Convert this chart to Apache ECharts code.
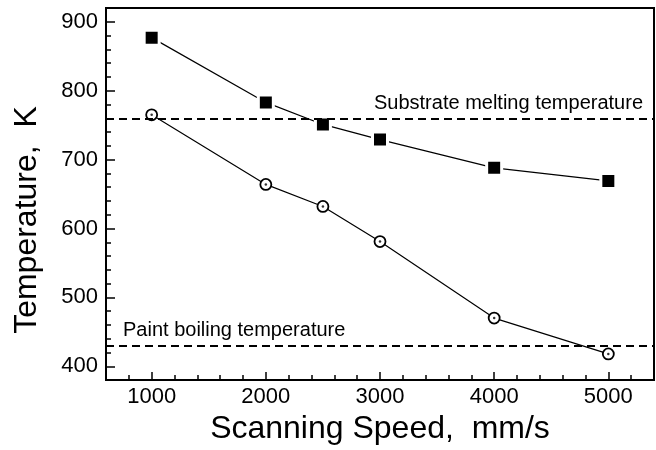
<!DOCTYPE html>
<html>
<head>
<meta charset="utf-8">
<script src="https://cdn.jsdelivr.net/npm/echarts@6/dist/echarts.min.js"></script>
<style>
  html, body { margin: 0; padding: 0; background: #fff; }
  #chart { width: 656px; height: 450px; }
</style>
</head>
<body>
<div id="chart"></div>
<script>
const speeds = [1000, 2000, 2500, 3000, 4000, 5000];
const squareTemps = [877, 783, 751, 729, 688, 669];
const circleTemps = [765, 664, 632, 581, 470, 418];

const meltingTemp = 760;
const boilingTemp = 430;

const xMajor = [1000, 2000, 3000, 4000, 5000];
const xMinor = [800, 1200, 1400, 1600, 1800, 2200, 2400, 2600, 2800, 3200, 3400, 3600, 3800, 4200, 4400, 4600, 4800, 5200];
const yMajor = [400, 500, 600, 700, 800, 900];
const yMinor = [420, 440, 460, 480, 520, 540, 560, 580, 620, 640, 660, 680, 720, 740, 760, 780, 820, 840, 860, 880];

const font = "'Liberation Sans', Arial, sans-serif";

const pairs = (ys) => speeds.map((s, i) => [s, ys[i]]);

const chart = echarts.init(document.getElementById("chart"));

const xBase = {
  type: "value",
  min: 600,
  max: 5400,
  position: "bottom",
  splitLine: { show: false },
};
const yBase = {
  type: "value",
  min: 380,
  max: 920,
  position: "left",
  splitLine: { show: false },
};

const option = {
  animation: false,
  backgroundColor: "#fff",
  grid: {
    left: 106,
    right: 2,
    top: 8,
    bottom: 63,
    show: true,
    borderColor: "#000",
    borderWidth: 2,
  },
  xAxis: [
    {
      ...xBase,
      name: "Scanning Speed,  mm/s",
      nameLocation: "middle",
      nameGap: 31,
      nameTextStyle: { fontSize: 32, fontFamily: font, color: "#000" },
      axisLine: { lineStyle: { color: "#000", width: 2 } },
      axisTick: {
        inside: true,
        length: 8,
        customValues: xMajor,
        lineStyle: { color: "#000", width: 1.5 },
      },
      axisLabel: {
        customValues: xMajor,
        formatter: (v) => String(v),
        fontSize: 22,
        fontFamily: font,
        color: "#000",
        margin: 6,
      },
    },
    {
      ...xBase,
      axisLine: { show: false },
      axisTick: {
        inside: true,
        length: 5,
        customValues: xMinor,
        lineStyle: { color: "#000", width: 1.5 },
      },
      axisLabel: { show: false },
    },
  ],
  yAxis: [
    {
      ...yBase,
      axisLine: { lineStyle: { color: "#000", width: 2 } },
      axisTick: {
        inside: true,
        length: 9,
        customValues: yMajor,
        lineStyle: { color: "#000", width: 1.5 },
      },
      axisLabel: {
        customValues: yMajor,
        formatter: (v) => String(v),
        fontSize: 22,
        fontFamily: font,
        color: "#000",
        margin: 8,
      },
    },
    {
      ...yBase,
      axisLine: { show: false },
      axisTick: {
        inside: true,
        length: 5,
        customValues: yMinor,
        lineStyle: { color: "#000", width: 1.5 },
      },
      axisLabel: { show: false },
    },
  ],
  graphic: [
    {
      type: "text",
      x: 27,
      y: 220,
      rotation: Math.PI / 2,
      style: {
        text: "Temperature,  K",
        font: "32px " + font,
        fill: "#000",
        align: "center",
        verticalAlign: "middle",
      },
    },
  ],
  series: [
    {
      type: "line",
      data: pairs(squareTemps),
      symbol: "rect",
      symbolSize: 15,
      lineStyle: { color: "#000", width: 1.2 },
      itemStyle: { color: "#000", borderColor: "#fff", borderWidth: 3 },
      z: 3,
      markLine: {
        silent: true,
        symbol: "none",
        lineStyle: { color: "#000", type: [8, 5], width: 1.8 },
        data: [
          {
            yAxis: meltingTemp,
            label: {
              formatter: "Substrate melting temperature",
              position: "insideEndTop",
              padding: [0, 6, 0, 0],
              fontSize: 20,
              fontFamily: font,
              color: "#000",
            },
          },
          {
            yAxis: boilingTemp,
            label: {
              formatter: "Paint boiling temperature",
              position: "insideStartTop",
              padding: [0, 0, 0, 12],
              fontSize: 20,
              fontFamily: font,
              color: "#000",
            },
          },
        ],
      },
    },
    {
      type: "line",
      data: pairs(circleTemps),
      symbol: "circle",
      symbolSize: 11,
      lineStyle: { color: "#000", width: 1.2 },
      itemStyle: { color: "#fff", borderColor: "#000", borderWidth: 1.8 },
      z: 3,
    },
    {
      type: "scatter",
      data: pairs(circleTemps),
      symbol: "circle",
      symbolSize: 2.5,
      itemStyle: { color: "#000" },
      z: 4,
    },
  ],
};

option && chart.setOption(option);
</script>
</body>
</html>
